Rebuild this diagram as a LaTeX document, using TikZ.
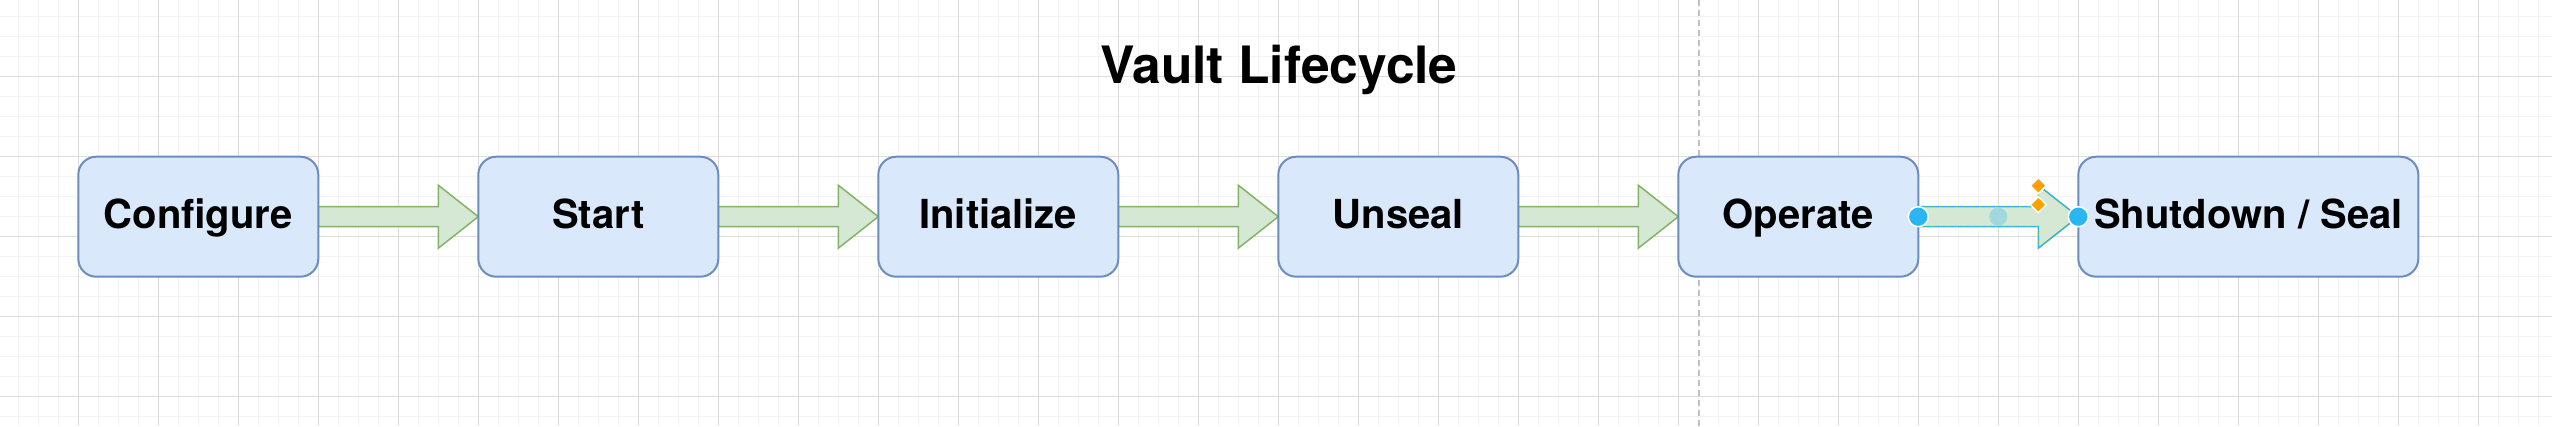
\documentclass[tikz,border=0pt]{standalone}
\usepackage{fontspec}
\setmainfont{TeX Gyre Heros}
\usetikzlibrary{calc}
\definecolor{boxfill}{HTML}{DAE8FC}
\definecolor{boxline}{HTML}{6C8EBF}
\definecolor{arrowfill}{HTML}{D5E8D4}
\definecolor{arrowline}{HTML}{82B366}
\definecolor{gridminor}{HTML}{F3F3F3}
\definecolor{gridmajor}{HTML}{DCDCDC}
\definecolor{sepgray}{HTML}{C0C0C0}
\definecolor{selblue}{HTML}{29B6F2}
\definecolor{handleorange}{HTML}{FFA000}
\pgfdeclarelayer{bg}
\pgfsetlayers{bg,main}
\newcommand\flowarrow[2]{%
  \begin{pgfonlayer}{bg}
  \draw[flow] ($(#1.east)+(0,-10)$) -- ($(#2.west)+(-40,-10)$) -- ($(#2.west)+(-40,-31.5)$) -- (#2.west)
    -- ($(#2.west)+(-40,31.5)$) -- ($(#2.west)+(-40,10)$) -- ($(#1.east)+(0,10)$) -- cycle;
  \end{pgfonlayer}}
\begin{document}
\begin{tikzpicture}[x=1pt,y=-1pt,
  stepbox/.style={draw=boxline, fill=boxfill, line width=2pt, rounded corners=18pt,
    minimum width=240pt, minimum height=120pt, outer sep=0pt, inner sep=0pt,
    font=\fontsize{40}{48}\selectfont\bfseries, text height=24pt, text depth=0pt},
  flow/.style={draw=arrowline, fill=arrowfill, line width=1.5pt, line join=miter},
  titletext/.style={font=\fontsize{51.5}{60}\selectfont\bfseries, anchor=base, inner sep=0pt},
  minorline/.style={gridminor, line width=1.5pt},
  majorline/.style={gridmajor, line width=1pt},
  sepline/.style={sepgray, line width=2pt, dash pattern=on 6pt off 4pt},
  seldash/.style={selblue, line width=1.5pt, dash pattern=on 5pt off 3pt},
  handle/.style={draw=white, fill=selblue, line width=1.5pt},
  rhombus/.style={draw=white, fill=handleorange, line width=1.5pt}]
\useasboundingbox (0,0) rectangle (2552,426);
\begin{pgfonlayer}{bg}
\fill[white] (0,0) rectangle (2552,426);
\foreach \i in {0,...,126} \draw[minorline] (18.3+20*\i,0) -- (18.3+20*\i,426);
\foreach \i in {0,...,20} \draw[minorline] (0,16.7+20*\i) -- (2552,16.7+20*\i);
\foreach \i in {0,...,30} \draw[majorline] (78.3+80*\i,0) -- (78.3+80*\i,426);
\foreach \i in {0,...,4} \draw[majorline] (0,76.7+80*\i) -- (2552,76.7+80*\i);
\draw[sepline] (1699,0) -- (1699,426);
\end{pgfonlayer}

\node[titletext] (title) at (1279,83) {Vault Lifecycle};

\node[stepbox] (configure) at (198.3,216.7) {Configure};
\node[stepbox] (start) at (598.3,216.7) {Start};
\node[stepbox] (init) at (998.3,216.7) {Initialize};
\node[stepbox] (unseal) at (1398.3,216.7) {Unseal};
\node[stepbox] (operate) at (1798.3,216.7) {Operate};
\node[stepbox, minimum width=340pt] (shutdown) at (2248.3,216.7) {Shutdown / Seal};

\flowarrow{configure}{start}
\flowarrow{start}{init}
\flowarrow{init}{unseal}
\flowarrow{unseal}{operate}
\flowarrow{operate}{shutdown}

% selection handles on the last connector
\draw[seldash] ($(operate.east)+(0,-10)$) -- ($(shutdown.west)+(-40,-10)$);
\draw[seldash] ($(operate.east)+(0,10)$) -- ($(shutdown.west)+(-40,10)$) -- ($(shutdown.west)+(-40,31.5)$);
\draw[selblue, line width=1pt] ($(shutdown.west)+(-40,31.5)$) -- (shutdown.west) -- ($(shutdown.west)+(-40,-31.5)$);
\fill[selblue, opacity=0.3] ($(operate.east)!0.5!(shutdown.west)$) circle (9pt);
\draw[handle] (operate.east) circle (10pt);
\draw[handle] (shutdown.west) circle (10pt);
\draw[rhombus] ($(shutdown.west)+(-40,-39)$) -- ++(8,8) -- ++(-8,8) -- ++(-8,-8) -- cycle;
\draw[rhombus] ($(shutdown.west)+(-40,-20)$) -- ++(8,8) -- ++(-8,8) -- ++(-8,-8) -- cycle;
\end{tikzpicture}
\end{document}
